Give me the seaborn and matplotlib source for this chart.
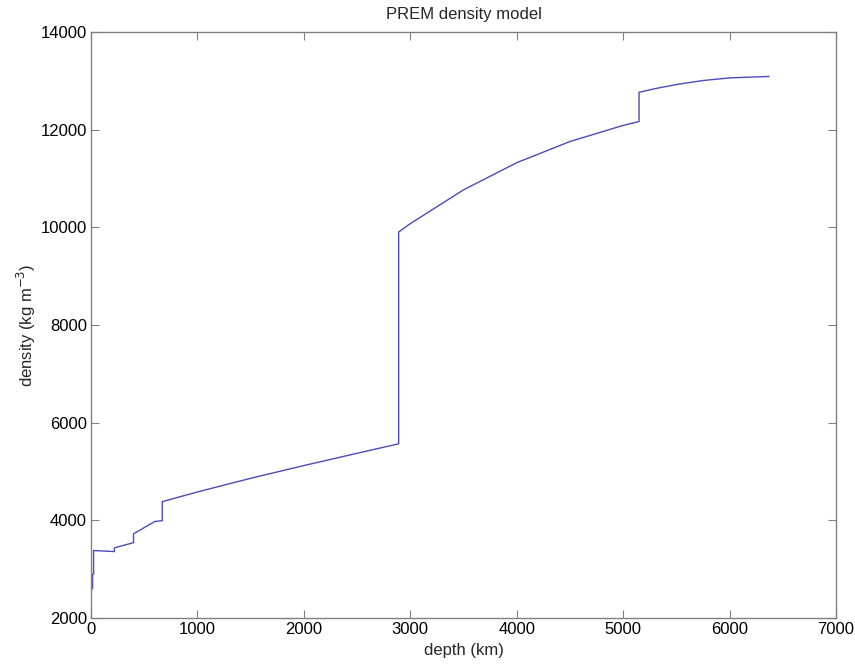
import pandas as pd
import matplotlib
matplotlib.use("Agg")
import matplotlib.pyplot as plt
import seaborn as sns

# ── PREM density profile (depth km, density kg/m3) ───────────────────────────
# repeated depths mark the discontinuities (vertical jumps in the curve)
depth_km = [0, 15, 15, 24.4, 24.4, 80, 220, 220, 400, 400, 600, 670, 670,
            771, 1000, 1500, 2000, 2500, 2741, 2891, 2891,
            3000, 3500, 4000, 4500, 5000, 5150, 5150,
            5300, 5500, 5750, 6000, 6371]
density = [2600, 2600, 2900, 2900, 3381, 3375, 3360, 3436, 3543, 3724, 3976, 3992, 4381,
           4443, 4580, 4860, 5121, 5372, 5492, 5566, 9904,
           10074, 10766, 11322, 11756, 12086, 12166, 12764,
           12839, 12923, 13005, 13059, 13089]

df = pd.DataFrame({"depth": depth_km, "density": density})

sns.set_theme(style="white")
plt.rcParams["font.family"] = ["Liberation Sans", "DejaVu Sans"]

fig = plt.figure(figsize=(8.55, 6.67), dpi=100)
ax = fig.add_axes([0.1064, 0.0735, 0.8713, 0.8786])

sns.lineplot(data=df, x="depth", y="density", sort=False, estimator=None,
             color="#4b4bbd", linewidth=1.0, ax=ax)

ax.set_xlim(0, 7000)
ax.set_ylim(2000, 14000)
ax.set_xticks(range(0, 7001, 1000))
ax.set_yticks(range(2000, 14001, 2000))

ax.set_xlabel("depth (km)", fontsize=12, labelpad=4)
ax.set_ylabel("density (kg m$^{-3}$)", fontsize=12, labelpad=2)
ax.set_title("PREM density model", fontsize=12, pad=9)

ax.tick_params(axis="both", which="both", direction="in", length=6, width=0.8,
               colors="#808080", labelcolor="black", labelsize=12,
               top=True, right=True, bottom=True, left=True, pad=3)
for s in ax.spines.values():
    s.set_color("#808080")
    s.set_linewidth(1.0)
    s.set_visible(True)

plt.savefig("out.png", dpi=100)
plt.close()
